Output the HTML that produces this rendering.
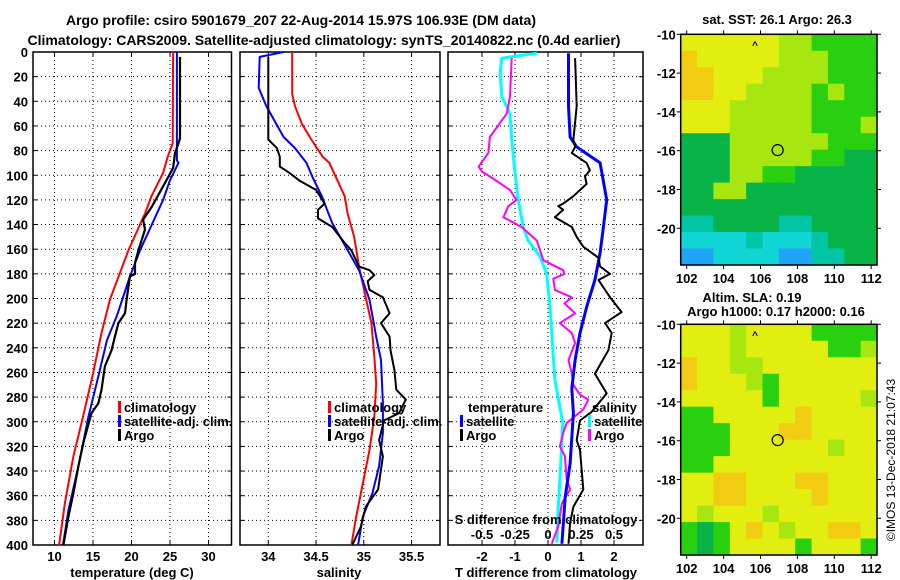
<!DOCTYPE html>
<html><head><meta charset="utf-8"><style>
html,body{margin:0;padding:0;background:#fff;}
svg{display:block;font-family:"Liberation Sans",sans-serif;font-weight:bold;}
</style></head><body>
<svg id="fig" width="900" height="580" viewBox="0 0 900 580" xmlns="http://www.w3.org/2000/svg">
<text x="301" y="25" font-size="14" text-anchor="middle">Argo profile: csiro 5901679_207 22-Aug-2014 15.97S 106.93E (DM data)</text>
<text x="324" y="45" font-size="14" text-anchor="middle">Climatology: CARS2009. Satellite-adjusted climatology: synTS_20140822.nc (0.4d earlier)</text>
<text x="777" y="24" font-size="13" text-anchor="middle">sat. SST: 26.1 Argo: 26.3</text>
<text x="752" y="302" font-size="13" text-anchor="middle">Altim. SLA: 0.19</text>
<text x="776" y="316" font-size="13" text-anchor="middle">Argo h1000: 0.17 h2000: 0.16</text>
<text font-size="12" font-weight="normal" text-anchor="middle" transform="translate(895,460) rotate(-90)">©IMOS 13-Dec-2018 21:07:43</text>
<g id="layer"></g>
</svg>
<script>
// ---- Panel 1: temperature ----
const tClimDepth=[0,74,85,98,117,131,161,201,228,261,296,328,366,400];
const tClim=[25.4,25.35,24.7,24.1,22.6,21.75,19.6,17.2,16.1,15.0,13.7,12.45,11.35,10.6];
const tSatDepth=[0,88,90,104,120,131,161,182,214,234,263,296,336,372,400];
const tSat=[25.9,25.9,26.1,25.0,24.1,23.3,21.1,19.8,18.1,16.8,15.7,14.4,13.1,11.8,11.1];
const tArgoDepth=[4,70,74,82,94,101,109,126,136,144,161,171,180,182,199,212,220,231,242,255,274,285,293,317,336,358,377,400];
const tArgo=[26.3,26.3,26.1,25.65,25.4,24.8,24.1,22.6,21.5,21.75,20.9,20.45,20.45,19.8,19.4,19.15,18.3,17.85,17.4,16.55,16.1,15.7,14.8,13.75,13.1,12.45,11.8,11.15];
const tTicks=[10,15,20,25,30];
// ---- Panel 2: salinity ----
const sClimDepth=[0,34,44,58,71,85,90,117,131,150,174,199,220,247,269,296,323,350,377,400];
const sClim=[34.25,34.25,34.28,34.35,34.45,34.57,34.64,34.8,34.83,34.9,34.95,35.02,35.08,35.11,35.13,35.11,35.06,34.99,34.92,34.87];
const sSatDepth=[0,4,29,44,69,78,90,101,117,139,158,177,201,231,250,285,309,336,358,377,400];
const sSat=[34.16,33.91,33.9,33.98,34.16,34.28,34.4,34.46,34.56,34.67,34.81,34.95,35.06,35.13,35.18,35.2,35.2,35.16,35.09,34.99,34.94];
const sArgoDepth=[4,71,78,85,93,98,104,112,123,128,135,142,153,161,174,177,181,186,193,199,212,220,231,242,258,274,282,293,299,315,328,355,369,385,400];
const sArgo=[34.0,34.0,34.09,34.12,34.12,34.22,34.32,34.5,34.59,34.52,34.52,34.67,34.78,34.87,34.95,35.06,35.11,35.04,35.06,35.2,35.27,35.18,35.27,35.28,35.32,35.34,35.44,35.37,35.21,35.16,35.2,35.15,35.02,34.97,34.88];
const sTicks=[34,34.5,35,35.5];
const sTickLabels=["34","34.5","35","35.5"];
// ---- Panel 3: differences ----
const dSSatDepth=[1,5,17,36,50,71,98,120,142,153,166,180,207,247,266,301,347,374,398];
const dSSat=[-0.085,-0.35,-0.362,-0.35,-0.288,-0.275,-0.25,-0.225,-0.188,-0.15,-0.06,-0.01,0.015,0.04,0.052,0.112,0.09,0.075,0.068];
const dSArgoDepth=[5,36,50,69,82,93,97,101,112,120,125,134,142,153,169,177,180,184,193,199,204,212,220,228,236,250,261,270,278,282,290,301,309,320,328,347,355,366,385,399];
const dSArgo=[-0.275,-0.288,-0.312,-0.44,-0.452,-0.525,-0.5,-0.44,-0.288,-0.238,-0.3,-0.338,-0.2,-0.085,-0.035,0.115,0.125,0.04,0.052,0.18,0.125,0.205,0.09,0.18,0.205,0.155,0.18,0.192,0.242,0.305,0.268,0.142,0.115,0.09,0.128,0.142,0.168,0.105,0.078,0.028];
const dTSatDepth=[1,44,69,77,90,120,142,163,185,207,228,250,273,293,334,361,399];
const dTSat=[0.62,0.62,0.67,0.87,1.58,1.78,1.68,1.58,1.42,1.17,0.97,0.82,0.72,0.77,0.67,0.52,0.42];
const dTArgoDepth=[5,44,71,77,82,90,96,101,107,117,123,125,128,134,142,150,158,167,174,180,185,199,211,220,228,242,261,277,292,299,315,323,355,369,382,399];
const dTArgo=[0.82,0.87,0.77,0.82,0.72,1.17,1.27,1.12,1.17,0.77,0.46,0.31,0.46,0.21,0.72,0.87,1.07,1.53,1.58,1.88,1.53,1.88,2.23,1.73,1.93,1.83,1.42,1.78,1.32,0.97,0.87,0.97,1.07,0.77,0.67,0.62];
const dTTicks=[-2,-1,0,1,2];
const dSTicks=[-0.5,-0.25,0,0.25,0.5];
const dSTickLabels=["-0.5","-0.25","0","0.25","0.5"];
const depthTicks=[0,20,40,60,80,100,120,140,160,180,200,220,240,260,280,300,320,340,360,380,400];
// ---- Maps (colour class grids, rows top->bottom) ----
const sstGrid=["YYYYYYLLGGGG","OYYYYYLLLGGG","OOYYYLLLLGGG","OOYYLLLLGLGG","YYYLLLLLGGGG","YYYLLLLLGGGL","DDDLLLLLLGGG","DDDLLLLLGGDD","DDDLLGGDDDDD","DDLLDDDDDDDD","DDDDDDDDDDDD","TTDDDDTTDDDD","CCCCTCCCTDDD","BBCCCCBBTTDD"];
const slaGrid=["YYYLYYYYGGGG","YYYLYYYYYGGL","OYYLLYYYYYYY","OYYYLGYYYYYY","YYYYYGYYYYYL","GGYYYYYOYYYY","GGGYYYOOYYYY","GGGYYYYYYLYY","GGYYYYYYYYYY","YYOOYYYOOYYY","YYOOYYYYOYYY","YLYYYLYYYYYY","GDGYOYLYYOOY","GDGYYYYGYYYG"];
const colorOf={O:"#f2cc10",Y:"#e2ee10",L:"#a8e610",G:"#28d010",D:"#08b448",T:"#00c6a6",C:"#10d6d6",B:"#20a4f8"};
const lonTicks=[102,104,106,108,110,112];
const latTicks=[-10,-12,-14,-16,-18,-20];
const argoLon=106.93, argoLat=-15.97;

const NS="http://www.w3.org/2000/svg";
const layer=document.getElementById('layer');
function mk(tag,attrs,parent){const e=document.createElementNS(NS,tag);for(const k in attrs)e.setAttribute(k,attrs[k]);(parent||layer).appendChild(e);return e;}
const Y0=52, Y1=545;
const yD=d=>Y0+d*(Y1-Y0)/400;

function panel(name,x0,x1,xScale,ticks,labels,showY){
  const g=mk('g',{});
  
  
  // grid
  depthTicks.forEach(d=>{if(d>0&&d<400){const l=mk('line',{x1:x0,x2:x1,y1:yD(d),y2:yD(d),stroke:'#000','stroke-width':1,'stroke-dasharray':'1,3'},g);
    }
    mk('line',{x1:x0,x2:x0+4,y1:yD(d),y2:yD(d),stroke:'#000'},g);
    mk('line',{x1:x1-4,x2:x1,y1:yD(d),y2:yD(d),stroke:'#000'},g);
    if(showY){const t=mk('text',{x:x0-5,y:yD(d)+5,'font-size':13,'text-anchor':'end'},g);t.textContent=d;
      }
  });
  ticks.forEach((v,i)=>{const x=xScale(v);
    const l=mk('line',{x1:x,x2:x,y1:Y0,y2:Y1,stroke:'#000','stroke-dasharray':'1,3'},g);
    
    mk('line',{x1:x,x2:x,y1:Y0,y2:Y0+4,stroke:'#000'},g);
    mk('line',{x1:x,x2:x,y1:Y1-4,y2:Y1,stroke:'#000'},g);
    const t=mk('text',{x:x,y:561,'font-size':13,'text-anchor':'middle'},g);t.textContent=labels[i];
    
  });
  const r=mk('rect',{x:x0,y:Y0,width:x1-x0,height:Y1-Y0,fill:'none',stroke:'#000','stroke-width':1.5},g);
  
  return g;
}
function line(g,name,xs,ds,xScale,color,w){
  const p=mk('polyline',{points:xs.map((v,i)=>xScale(v).toFixed(1)+','+yD(ds[i]).toFixed(1)).join(' '),fill:'none',stroke:color,'stroke-width':w,'stroke-linejoin':'round'},g);
  
  
}
function label(txt,x,y,name,size,anchor){const t=mk('text',{x:x,y:y,'font-size':size||13,'text-anchor':anchor||'middle'});t.textContent=txt;
  return t;}
function legend(items,bx,y0,prefix){items.forEach((it,i)=>{const y=y0+i*14;
  const b=mk('rect',{x:bx,y:y-6,width:3,height:12,fill:it[1]});
  
  label(it[0],bx+6,y+5,prefix+'-legend-entry',13,'start');});}

// Panel 1
const xT=v=>54.5+(v-10)*7.7;
const g1=panel('temperature',33,231.5,xT,tTicks,tTicks.map(String),true);
line(g1,'temperature-climatology-line',tClim,tClimDepth,xT,'#f00',2);
line(g1,'temperature-satellite-line',tSat,tSatDepth,xT,'#00f',2);
line(g1,'temperature-argo-line',tArgo,tArgoDepth,xT,'#000',2.2);
legend([['climatology','#f00'],['satellite-adj. clim.','#00f'],['Argo','#000']],118,407,'temperature');
label('temperature (deg C)',132,577,'temperature-x-axis-title');

// Panel 2
const xS=v=>268.3+(v-34)*95.5;
const g2=panel('salinity',240,440,xS,sTicks,sTickLabels,false);
line(g2,'salinity-climatology-line',sClim,sClimDepth,xS,'#f00',2);
line(g2,'salinity-satellite-line',sSat,sSatDepth,xS,'#00f',2);
line(g2,'salinity-argo-line',sArgo,sArgoDepth,xS,'#000',2);
legend([['climatology','#f00'],['satellite-adj. clim.','#00f'],['Argo','#000']],328,407,'salinity');
label('salinity',339,577,'salinity-x-axis-title');

// Panel 3
const xDT=v=>548+v*33;
const xDS=v=>548+v*132;
const g3=panel('difference',448,643,xDT,dTTicks,dTTicks.map(String),false);
line(g3,'s-diff-satellite-line',dSSat,dSSatDepth,xDS,'#0ff',3);
line(g3,'s-diff-argo-line',dSArgo,dSArgoDepth,xDS,'#f0f',2);
line(g3,'t-diff-satellite-line',dTSat,dTSatDepth,xDT,'#00f',3);
line(g3,'t-diff-argo-line',dTArgo,dTArgoDepth,xDT,'#000',2);
label('temperature',468,412,'t-legend-title',13,'start');
legend([['satellite','#00f'],['Argo','#000']],460,421,'t-diff');
label('salinity',592,412,'s-legend-title',13,'start');
legend([['satellite','#0ff'],['Argo','#f0f']],588,421,'s-diff');
label('S difference from climatology',546,524,'s-diff-axis-title');
dSTicks.forEach((v,i)=>label(dSTickLabels[i],xDS(v),539,'s-diff-tick-label'));
label('T difference from climatology',546,577,'t-diff-x-axis-title');

// Maps
const MX0=680.7, MX1=877;
const lonX=lon=>686.7+(lon-102)*18.45;
function map(name,grid,top,bottom){
  const g=mk('g',{});
  
  
  const rows=grid.length, cols=grid[0].length;
  const cw=(MX1-MX0)/cols, ch=(bottom-top)/rows;
  grid.forEach((row,r)=>{for(let c=0;c<cols;c++){
    const cell=mk('rect',{x:(MX0+c*cw).toFixed(2),y:(top+r*ch).toFixed(2),width:(cw+0.6).toFixed(2),height:(ch+0.6).toFixed(2),fill:colorOf[row[c]]},g);
    
    
  }});
  const latY=lat=>top+(-10-lat)*19.4;
  mk('rect',{x:MX0,y:top,width:MX1-MX0,height:bottom-top,fill:'none',stroke:'#000','stroke-width':1.5},g);
  latTicks.forEach(la=>{const y=latY(la);
    mk('line',{x1:MX0-4,x2:MX0,y1:y,y2:y,stroke:'#000'},g);
    mk('line',{x1:MX1,x2:MX1+4,y1:y,y2:y,stroke:'#000'},g);
    const t=mk('text',{x:MX0-5,y:y+5,'font-size':13,'text-anchor':'end'},g);t.textContent=la;
    });
  lonTicks.forEach(lo=>{const x=lonX(lo);
    mk('line',{x1:x,x2:x,y1:top-4,y2:top,stroke:'#000'},g);
    mk('line',{x1:x,x2:x,y1:bottom,y2:bottom+4,stroke:'#000'},g);
    const t=mk('text',{x:x,y:bottom+18,'font-size':13,'text-anchor':'middle'},g);t.textContent=lo;
    });
  const c=mk('circle',{cx:lonX(argoLon),cy:latY(argoLat),r:5.5,fill:'none',stroke:'#000','stroke-width':1.2},g);
  
  
  const m=mk('text',{x:755,y:top+14,'font-size':10,'text-anchor':'middle'},g);m.textContent='^';
  
}
map('sst-map',sstGrid,34.3,265);
map('sla-map',slaGrid,324.3,555);
</script>
</body></html>
